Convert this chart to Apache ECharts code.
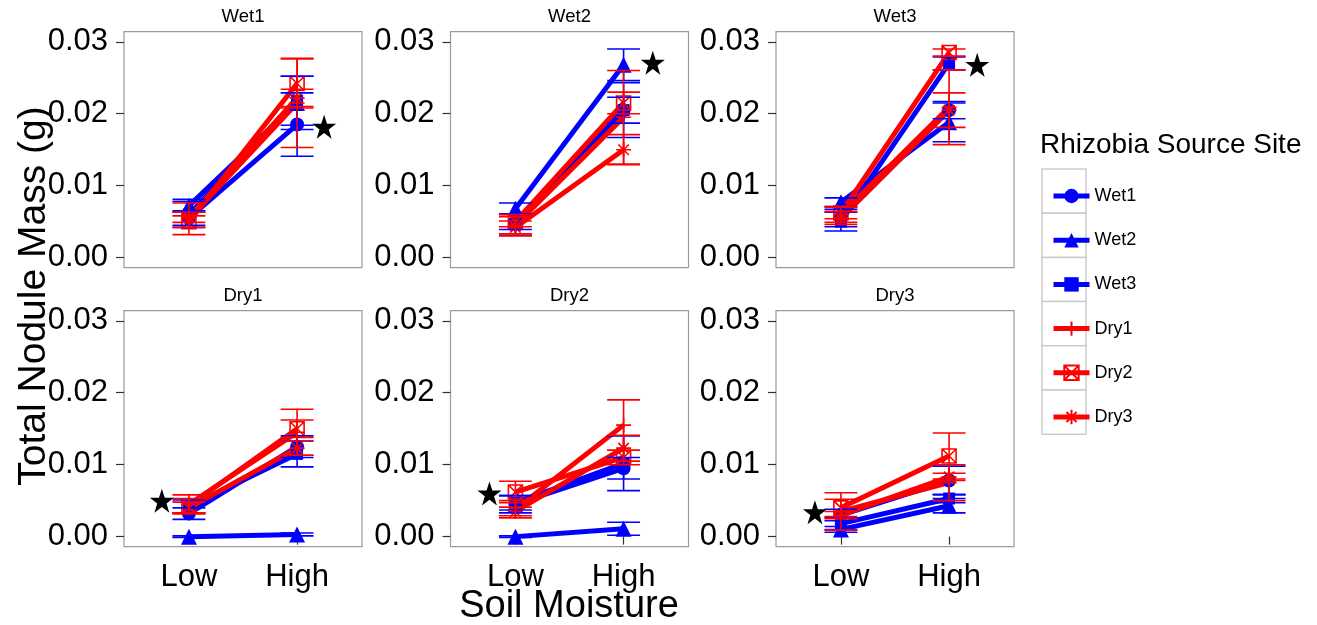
<!DOCTYPE html>
<html>
<head>
<meta charset="utf-8">
<script src="https://cdn.jsdelivr.net/npm/echarts@6/dist/echarts.min.js"></script>
<style>
  html, body { margin: 0; padding: 0; background: #ffffff; }
  #chart { width: 1317px; height: 625px; }
</style>
</head>
<body>
<div id="chart"></div>
<script>
// Soil site of each facet panel (row-major), and rhizobia source sites (series)
const soilSites = ['Wet1', 'Wet2', 'Wet3', 'Dry1', 'Dry2', 'Dry3'];
const sourceSites = ['Wet1', 'Wet2', 'Wet3', 'Dry1', 'Dry2', 'Dry3'];
const moistureLevels = ['Low', 'High'];
const yTicks = [0, 0.01, 0.02, 0.03];

// Mean total nodule mass (g); one row per soil panel, columns follow sourceSites
const lowMean = [
  [0.0055, 0.0072, 0.0060, 0.0054, 0.0050, 0.0056],
  [0.0050, 0.0068, 0.0046, 0.0045, 0.0050, 0.0042],
  [0.0055, 0.0077, 0.0050, 0.0060, 0.0062, 0.0055],
  [0.0032, 0.0000, 0.0042, 0.0045, 0.0043, 0.0040],
  [0.0045, 0.0000, 0.0047, 0.0038, 0.0062, 0.0035],
  [0.0030, 0.0010, 0.0018, 0.0035, 0.0040, 0.0030]
];
const highMean = [
  [0.0185, 0.0215, 0.0218, 0.0215, 0.0242, 0.0222],
  [0.0205, 0.0268, 0.0205, 0.0195, 0.0215, 0.0150],
  [0.0205, 0.0188, 0.0270, 0.0209, 0.0285, 0.0205],
  [0.0125, 0.0003, 0.0115, 0.0145, 0.0150, 0.0123],
  [0.0095, 0.0011, 0.0102, 0.0155, 0.0110, 0.0123],
  [0.0078, 0.0043, 0.0053, 0.0075, 0.0112, 0.0083]
];
// Standard errors (g)
const lowErr = [
  [0.0010, 0.0009, 0.0018, 0.0022, 0.0008, 0.0007],
  [0.0011, 0.0008, 0.0015, 0.0015, 0.0007, 0.0009],
  [0.0012, 0.0006, 0.0013, 0.0011, 0.0008, 0.0009],
  [0.0008, 0.0001, 0.0009, 0.0013, 0.0010, 0.0008],
  [0.0012, 0.0001, 0.0010, 0.0012, 0.0015, 0.0006],
  [0.0008, 0.0004, 0.0008, 0.0026, 0.0012, 0.0005]
];
const highErr = [
  [0.0044, 0.0037, 0.0034, 0.0062, 0.0034, 0.0012],
  [0.0018, 0.0022, 0.0038, 0.0065, 0.0015, 0.0021],
  [0.0012, 0.0027, 0.0009, 0.0052, 0.0005, 0.0024],
  [0.0015, 0.0002, 0.0018, 0.0032, 0.0012, 0.0010],
  [0.0015, 0.0009, 0.0038, 0.0035, 0.0010, 0.0018],
  [0.0020, 0.0010, 0.0006, 0.0025, 0.0032, 0.0005]
];
// Significance stars: [x position on the moisture axis, nodule mass]
const starX = [2.25, 2.27, 2.26, 0.75, 0.76, 0.76];
const starY = [0.0182, 0.0271, 0.0268, 0.0050, 0.0060, 0.0034];

const BLUE = '#0000ff';
const RED = '#ff0000';
const FONT = '"Liberation Sans", Arial, Helvetica, sans-serif';

const siteColor = [BLUE, BLUE, BLUE, RED, RED, RED];
const siteSymbol = [
  'circle',
  'triangle',
  'rect',
  'path://M0,5L10,5M5,0L5,10',
  'path://M0,0L10,0L10,10L0,10ZM0,0L10,10M0,10L10,0',
  'path://M0,5L10,5M5,0L5,10M1.5,1.5L8.5,8.5M1.5,8.5L8.5,1.5'
];
const siteSymbolSize = [14, 16, 12, 15, 14, 15];
const siteHollow = [false, false, false, true, true, true];

const STAR = 'path://M50,0L61.8,35.1L98.9,35.1L68.9,56.9L80.3,92.1L50,70.4L19.7,92.1L31.1,56.9L1.1,35.1L38.2,35.1Z';

// Panel geometry
const panelLeft = [124, 450.5, 776];
const panelTop = [31.7, 310.7];
const panelW = 238;
const panelH = 236;

const grids = [], xAxes = [], yAxes = [], series = [];

soilSites.forEach((soil, p) => {
  const col = p % 3, row = Math.floor(p / 3);
  const bottomRow = row === 1;
  grids.push({
    left: panelLeft[col], top: panelTop[row], width: panelW, height: panelH,
    show: true, borderColor: '#9a9a9a', borderWidth: 1.2, backgroundColor: '#ffffff'
  });
  xAxes.push({
    type: 'value', gridIndex: p, min: 0.4, max: 2.6,
    axisLine: { show: false },
    splitLine: { show: false },
    axisTick: { show: bottomRow, customValues: [1, 2], length: 8, lineStyle: { color: '#333333', width: 1.2 } },
    axisLabel: {
      show: bottomRow, customValues: [1, 2], margin: 15,
      formatter: v => moistureLevels[Math.round(v) - 1],
      fontSize: 31, fontFamily: FONT, color: '#000000'
    }
  });
  yAxes.push({
    type: 'value', gridIndex: p, min: -0.0014, max: 0.0314,
    axisLine: { show: false },
    splitLine: { show: false },
    axisTick: { show: true, customValues: yTicks, length: 8, lineStyle: { color: '#333333', width: 1.2 } },
    axisLabel: {
      customValues: yTicks, margin: 16,
      formatter: v => v.toFixed(2),
      fontSize: 31, fontFamily: FONT, color: '#000000'
    }
  });
});

// Lines with point markers
soilSites.forEach((soil, p) => {
  sourceSites.forEach((site, s) => {
    series.push({
      type: 'line', name: site, xAxisIndex: p, yAxisIndex: p,
      data: [[1, lowMean[p][s]], [2, highMean[p][s]]],
      symbol: siteSymbol[s], symbolSize: siteSymbolSize[s], showSymbol: true,
      lineStyle: { color: siteColor[s], width: 5 },
      itemStyle: siteHollow[s]
        ? { color: 'rgba(0,0,0,0)', borderColor: siteColor[s], borderWidth: 1.6 }
        : { color: siteColor[s], borderWidth: 0 },
      z: 2, animation: false, silent: true
    });
  });
});

// Error bars (mean ± SE)
function errorBar(color) {
  return function (params, api) {
    const x = api.value(0), lo = api.value(1), hi = api.value(2);
    const a = api.coord([x, lo]), b = api.coord([x, hi]);
    const l = api.coord([x - 0.152, lo])[0], r = api.coord([x + 0.152, lo])[0];
    const st = { stroke: color, lineWidth: 1.6, fill: null };
    return {
      type: 'group',
      children: [
        { type: 'line', shape: { x1: a[0], y1: a[1], x2: b[0], y2: b[1] }, style: st },
        { type: 'line', shape: { x1: l, y1: a[1], x2: r, y2: a[1] }, style: st },
        { type: 'line', shape: { x1: l, y1: b[1], x2: r, y2: b[1] }, style: st }
      ]
    };
  };
}
soilSites.forEach((soil, p) => {
  sourceSites.forEach((site, s) => {
    series.push({
      type: 'custom', name: site + ' SE', xAxisIndex: p, yAxisIndex: p,
      data: [
        [1, lowMean[p][s] - lowErr[p][s], lowMean[p][s] + lowErr[p][s]],
        [2, highMean[p][s] - highErr[p][s], highMean[p][s] + highErr[p][s]]
      ],
      encode: { x: 0, y: [1, 2] },
      renderItem: errorBar(siteColor[s]),
      z: 3, animation: false, silent: true
    });
  });
});

// Significance stars
soilSites.forEach((soil, p) => {
  series.push({
    type: 'scatter', name: 'star', xAxisIndex: p, yAxisIndex: p,
    data: [[starX[p], starY[p]]],
    symbol: STAR, symbolSize: 24,
    itemStyle: { color: '#000000', opacity: 1 },
    z: 4, animation: false, silent: true
  });
});

// Text and legend key frames
const graphics = [];
soilSites.forEach((soil, p) => {
  const col = p % 3, row = Math.floor(p / 3);
  graphics.push({
    type: 'text', x: panelLeft[col] + panelW / 2, y: row === 0 ? 17 : 296,
    style: { text: soil, fontSize: 18.5, fontFamily: FONT, fill: '#000000',
      align: 'center', verticalAlign: 'middle', textAlign: 'center', textVerticalAlign: 'middle' }
  });
});
graphics.push({
  type: 'text', x: 569, y: 607,
  style: { text: 'Soil Moisture', fontSize: 38, fontFamily: FONT, fill: '#000000',
    align: 'center', verticalAlign: 'middle', textAlign: 'center', textVerticalAlign: 'middle' }
});
graphics.push({
  type: 'text', x: 34, y: 296, rotation: Math.PI / 2,
  style: { text: 'Total Nodule Mass (g)', fontSize: 39, fontFamily: FONT, fill: '#000000',
    align: 'center', verticalAlign: 'middle', textAlign: 'center', textVerticalAlign: 'middle' }
});
graphics.push({
  type: 'text', x: 1040, y: 145,
  style: { text: 'Rhizobia Source Site', fontSize: 28, fontFamily: FONT, fill: '#000000',
    align: 'left', verticalAlign: 'middle', textAlign: 'left', textVerticalAlign: 'middle' }
});
sourceSites.forEach((site, i) => {
  graphics.push({
    type: 'rect', z: -1,
    shape: { x: 1042, y: 169 + i * 44.2, width: 44, height: 44.2 },
    style: { fill: '#ffffff', stroke: '#cccccc', lineWidth: 1.5 }
  });
});

const chart = echarts.init(document.getElementById('chart'), null, { renderer: 'canvas' });
chart.setOption({
  animation: false,
  backgroundColor: '#ffffff',
  grid: grids,
  xAxis: xAxes,
  yAxis: yAxes,
  legend: {
    orient: 'vertical', left: 1046, top: 182,
    data: sourceSites,
    itemWidth: 36, itemHeight: 18, itemGap: 26.2,
    selectedMode: false,
    lineStyle: { width: 5 },
    textStyle: { fontSize: 18, fontFamily: FONT, color: '#000000', lineHeight: 18, padding: [0, 0, 0, 0] }
  },
  graphic: graphics,
  series: series
});
</script>
</body>
</html>
